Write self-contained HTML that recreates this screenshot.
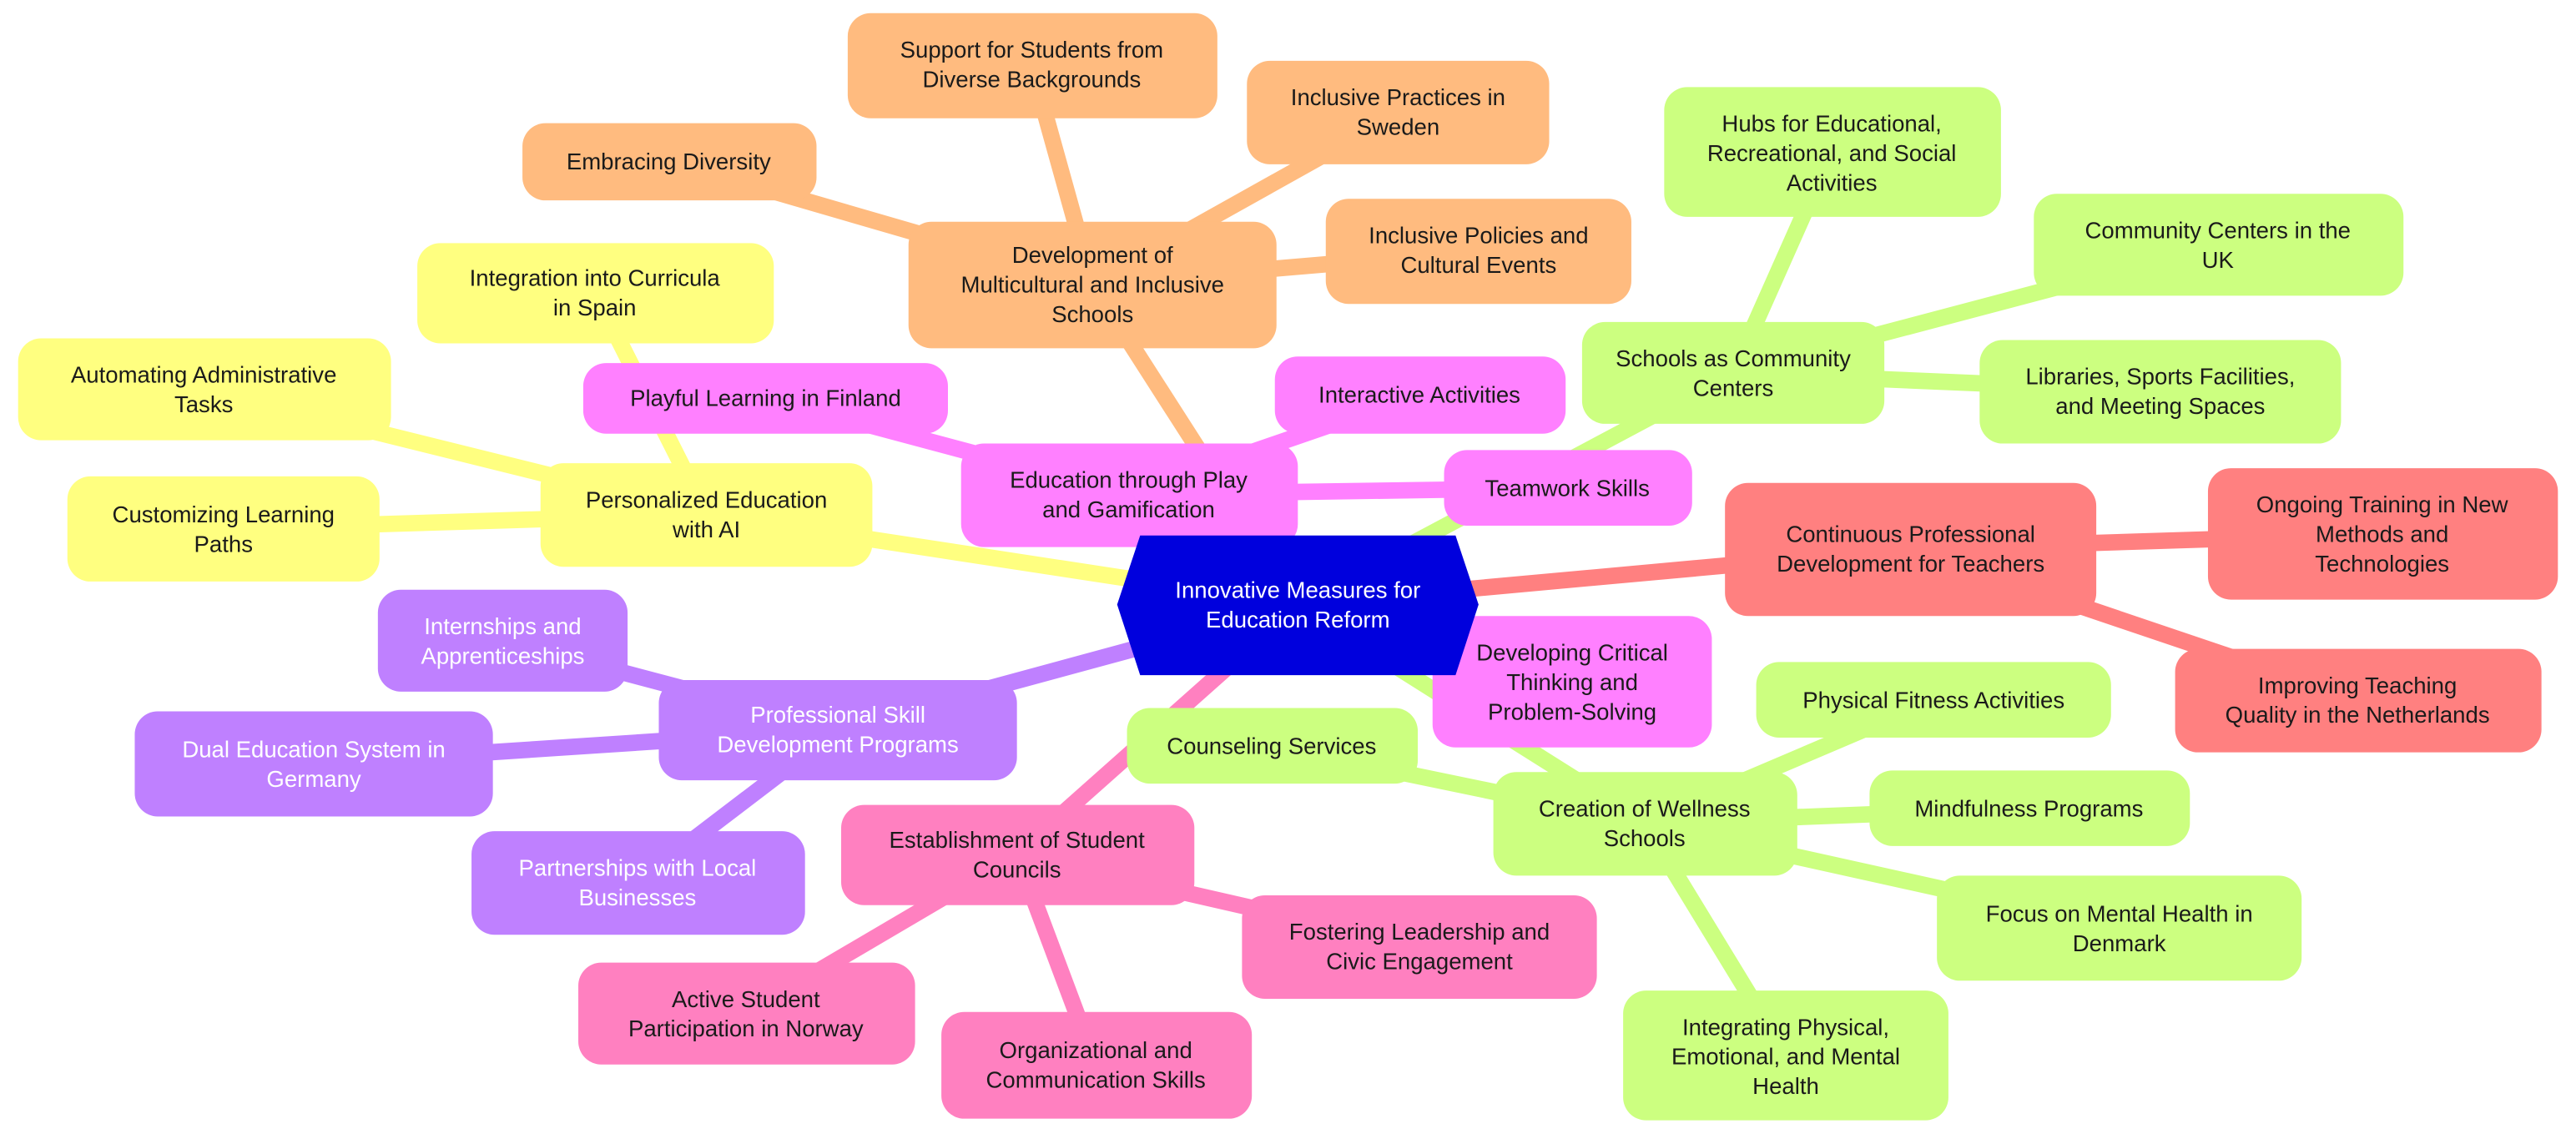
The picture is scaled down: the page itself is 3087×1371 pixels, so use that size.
<!DOCTYPE html>
<html><head><meta charset="utf-8"><style>
html,body{margin:0;padding:0;background:#fff;}
svg{display:block;}
text{font-family:"Liberation Sans",sans-serif;font-size:14px;fill:#1a1a1a;text-anchor:middle;}
.w{fill:#fff;}
</style></head><body>
<svg width="3087" height="1371" viewBox="0 0 1568 696.4" xmlns="http://www.w3.org/2000/svg">
<g stroke-width="10" stroke-linecap="round">
<!-- orange -->
<g stroke="#FFBB7F">
<line x1="790" y1="368" x2="665" y2="173"/>
<line x1="665" y1="173" x2="628" y2="40"/>
<line x1="665" y1="173" x2="851" y2="69"/>
<line x1="665" y1="173" x2="407" y2="98"/>
<line x1="665" y1="173" x2="900" y2="153"/>
</g>
<!-- yellow -->
<g stroke="#FFFF80">
<line x1="790" y1="368" x2="430" y2="313"/>
<line x1="430" y1="313" x2="362" y2="178"/>
<line x1="430" y1="313" x2="124" y2="237"/>
<line x1="430" y1="313" x2="136" y2="322"/>
</g>
<!-- green -->
<g stroke="#CCFF80">
<line x1="790" y1="368" x2="1055" y2="227"/>
<line x1="1055" y1="227" x2="1115" y2="92"/>
<line x1="1055" y1="227" x2="1350" y2="149"/>
<line x1="1055" y1="227" x2="1315" y2="238"/>
<line x1="790" y1="368" x2="1001" y2="501"/>
<line x1="1001" y1="501" x2="774" y2="454"/>
<line x1="1001" y1="501" x2="1177" y2="426"/>
<line x1="1001" y1="501" x2="1235" y2="492"/>
<line x1="1001" y1="501" x2="1290" y2="565"/>
<line x1="1001" y1="501" x2="1087" y2="642"/>
</g>
<!-- red -->
<g stroke="#FF8080">
<line x1="790" y1="368" x2="1163" y2="334"/>
<line x1="1163" y1="334" x2="1450" y2="325"/>
<line x1="1163" y1="334" x2="1435" y2="426"/>
</g>
<!-- purple -->
<g stroke="#BF80FF">
<line x1="790" y1="368" x2="510" y2="444"/>
<line x1="510" y1="444" x2="306" y2="390"/>
<line x1="510" y1="444" x2="191" y2="465"/>
<line x1="510" y1="444" x2="388" y2="537"/>
</g>
<!-- pink2 -->
<g stroke="#FF80C0">
<line x1="790" y1="368" x2="619" y2="520"/>
<line x1="619" y1="520" x2="864" y2="576"/>
<line x1="619" y1="520" x2="454" y2="617"/>
<line x1="619" y1="520" x2="667" y2="648"/>
</g>
<!-- magenta -->
<g stroke="#FF80FF">
<line x1="790" y1="368" x2="687" y2="301"/>
<line x1="687" y1="301" x2="466" y2="242"/>
<line x1="687" y1="301" x2="864" y2="240"/>
<line x1="687" y1="301" x2="954" y2="297"/>
<line x1="790" y1="368" x2="957" y2="415"/>
</g>
</g>

<!-- orange nodes -->
<g fill="#FFBB7F">
<rect x="516" y="8" width="225" height="64" rx="14"/>
<rect x="759" y="37" width="184" height="63" rx="14"/>
<rect x="318" y="75" width="179" height="47" rx="14"/>
<rect x="553" y="135" width="224" height="77" rx="14"/>
<rect x="807" y="121" width="186" height="64" rx="14"/>
</g>
<text x="628" y="35">Support for Students from<tspan x="628" dy="18">Diverse Backgrounds</tspan></text>
<text x="851" y="64">Inclusive Practices in<tspan x="851" dy="18">Sweden</tspan></text>
<text x="407" y="103">Embracing Diversity</text>
<text x="665" y="160">Development of<tspan x="665" dy="18">Multicultural and Inclusive</tspan><tspan x="665" dy="18">Schools</tspan></text>
<text x="900" y="148">Inclusive Policies and<tspan x="900" dy="18">Cultural Events</tspan></text>

<!-- yellow nodes -->
<g fill="#FFFF80">
<rect x="254" y="148" width="217" height="61" rx="14"/>
<rect x="11" y="206" width="227" height="62" rx="14"/>
<rect x="41" y="290" width="190" height="64" rx="14"/>
<rect x="329" y="282" width="202" height="63" rx="14"/>
</g>
<text x="362" y="174">Integration into Curricula<tspan x="362" dy="18">in Spain</tspan></text>
<text x="124" y="233">Automating Administrative<tspan x="124" dy="18">Tasks</tspan></text>
<text x="136" y="318">Customizing Learning<tspan x="136" dy="18">Paths</tspan></text>
<text x="430" y="309">Personalized Education<tspan x="430" dy="18">with AI</tspan></text>

<!-- magenta nodes -->
<g fill="#FF80FF">
<rect x="355" y="221" width="222" height="43" rx="14"/>
<rect x="776" y="217" width="177" height="47" rx="14"/>
<rect x="585" y="270" width="205" height="63" rx="14"/>
<rect x="879" y="274" width="151" height="46" rx="14"/>
<rect x="872" y="375" width="170" height="80" rx="14"/>
</g>
<text x="466" y="247">Playful Learning in Finland</text>
<text x="864" y="245">Interactive Activities</text>
<text x="687" y="297">Education through Play<tspan x="687" dy="18">and Gamification</tspan></text>
<text x="954" y="302">Teamwork Skills</text>
<text x="957" y="402">Developing Critical<tspan x="957" dy="18">Thinking and</tspan><tspan x="957" dy="18">Problem-Solving</tspan></text>

<!-- green nodes -->
<g fill="#CCFF80">
<rect x="1013" y="53" width="205" height="79" rx="14"/>
<rect x="1238" y="118" width="225" height="62" rx="14"/>
<rect x="963" y="196" width="184" height="62" rx="14"/>
<rect x="1205" y="207" width="220" height="63" rx="14"/>
<rect x="686" y="431" width="177" height="46" rx="14"/>
<rect x="1069" y="403" width="216" height="46" rx="14"/>
<rect x="909" y="470" width="185" height="63" rx="14"/>
<rect x="1138" y="469" width="195" height="46" rx="14"/>
<rect x="1179" y="533" width="222" height="64" rx="14"/>
<rect x="988" y="603" width="198" height="79" rx="14"/>
</g>
<text x="1115" y="80">Hubs for Educational,<tspan x="1115" dy="18">Recreational, and Social</tspan><tspan x="1115" dy="18">Activities</tspan></text>
<text x="1350" y="145">Community Centers in the<tspan x="1350" dy="18">UK</tspan></text>
<text x="1055" y="223">Schools as Community<tspan x="1055" dy="18">Centers</tspan></text>
<text x="1315" y="234">Libraries, Sports Facilities,<tspan x="1315" dy="18">and Meeting Spaces</tspan></text>
<text x="774" y="459">Counseling Services</text>
<text x="1177" y="431">Physical Fitness Activities</text>
<text x="1001" y="497">Creation of Wellness<tspan x="1001" dy="18">Schools</tspan></text>
<text x="1235" y="497">Mindfulness Programs</text>
<text x="1290" y="561">Focus on Mental Health in<tspan x="1290" dy="18">Denmark</tspan></text>
<text x="1087" y="630">Integrating Physical,<tspan x="1087" dy="18">Emotional, and Mental</tspan><tspan x="1087" dy="18">Health</tspan></text>

<!-- red nodes -->
<g fill="#FF8080">
<rect x="1050" y="294" width="226" height="81" rx="14"/>
<rect x="1344" y="285" width="213" height="80" rx="14"/>
<rect x="1324" y="395" width="223" height="63" rx="14"/>
</g>
<text x="1163" y="330">Continuous Professional<tspan x="1163" dy="18">Development for Teachers</tspan></text>
<text x="1450" y="312">Ongoing Training in New<tspan x="1450" dy="18">Methods and</tspan><tspan x="1450" dy="18">Technologies</tspan></text>
<text x="1435" y="422">Improving Teaching<tspan x="1435" dy="18">Quality in the Netherlands</tspan></text>

<!-- purple nodes -->
<g fill="#BF80FF">
<rect x="230" y="359" width="152" height="62" rx="14"/>
<rect x="401" y="414" width="218" height="61" rx="14"/>
<rect x="82" y="433" width="218" height="64" rx="14"/>
<rect x="287" y="506" width="203" height="63" rx="14"/>
</g>
<text class="w" x="306" y="386">Internships and<tspan x="306" dy="18">Apprenticeships</tspan></text>
<text class="w" x="510" y="440">Professional Skill<tspan x="510" dy="18">Development Programs</tspan></text>
<text class="w" x="191" y="461">Dual Education System in<tspan x="191" dy="18">Germany</tspan></text>
<text class="w" x="388" y="533">Partnerships with Local<tspan x="388" dy="18">Businesses</tspan></text>

<!-- pink2 nodes -->
<g fill="#FF80C0">
<rect x="512" y="490" width="215" height="61" rx="14"/>
<rect x="756" y="545" width="216" height="63" rx="14"/>
<rect x="352" y="586" width="205" height="62" rx="14"/>
<rect x="573" y="616" width="189" height="65" rx="14"/>
</g>
<text x="619" y="516">Establishment of Student<tspan x="619" dy="18">Councils</tspan></text>
<text x="864" y="572">Fostering Leadership and<tspan x="864" dy="18">Civic Engagement</tspan></text>
<text x="454" y="613">Active Student<tspan x="454" dy="18">Participation in Norway</tspan></text>
<text x="667" y="644">Organizational and<tspan x="667" dy="18">Communication Skills</tspan></text>

<!-- center -->
<polygon points="680,368 694,326 886,326 900,368 886,411 694,411" fill="#0000DD"/>
<text class="w" x="790" y="364">Innovative Measures for<tspan x="790" dy="18">Education Reform</tspan></text>
</svg>
</body></html>
